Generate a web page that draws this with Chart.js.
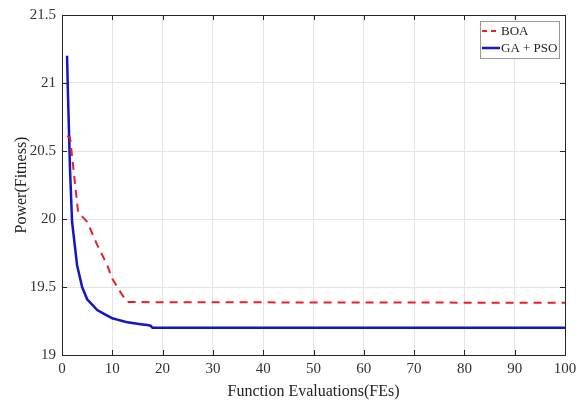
<!DOCTYPE html>
<html>
<head>
<meta charset="utf-8">
<script src="https://cdn.jsdelivr.net/npm/chart.js@4.4.1/dist/chart.umd.min.js"></script>
<style>
    html, body { margin: 0; padding: 0; background: #fff; }
    #wrap { width: 584px; height: 405px; position: relative; }
</style>
</head>
<body>
<div id="wrap"><canvas id="fitnessChart" width="584" height="405"></canvas></div>
<script>
// ─── Data ───────────────────────────────────────────────────────────────────
const boaFEs   = [1, 1.6, 2.3, 3.2, 5, 7, 9, 10, 11, 12, 13, 20, 40, 60, 80, 100];
const boaPower = [20.61, 20.6, 20.36, 20.05, 19.98, 19.81, 19.66, 19.56, 19.5, 19.44, 19.39, 19.388, 19.387, 19.386, 19.385, 19.385];

const gaPsoFEs   = [1, 1.2, 1.6, 2, 3, 4, 5, 6, 7, 8, 9, 10, 11, 12, 13, 14, 15, 16, 17, 17.6, 18, 30, 50, 70, 100];
const gaPsoPower = [21.2, 20.9, 20.36, 19.98, 19.66, 19.5, 19.41, 19.37, 19.33, 19.31, 19.29, 19.27, 19.26, 19.25, 19.24, 19.235, 19.23, 19.225, 19.22, 19.215, 19.2, 19.2, 19.2, 19.2, 19.2];

const seriesNames = ['BOA', 'GA + PSO'];
const xTicks = [0, 10, 20, 30, 40, 50, 60, 70, 80, 90, 100];
const yTicks = ['19', '19.5', '20', '20.5', '21', '21.5'];

const toPoints = (xs, ys) => xs.map((x, i) => ({ x: x, y: ys[i] }));

const FONT = "'Liberation Serif', 'Times New Roman', serif";
const RED = '#e8202a';
const BLUE = '#1414c8';

// ─── Box, inner ticks and legend (MATLAB style) ─────────────────────────────
const matlabBox = {
    id: 'matlabBox',
    afterDraw(chart) {
        const { ctx, chartArea: a, scales } = chart;
        ctx.save();
        ctx.strokeStyle = '#262626';
        ctx.lineWidth = 1;
        ctx.strokeRect(a.left + 0.5, a.top + 0.5, a.right - a.left, a.bottom - a.top);

        ctx.beginPath();
        xTicks.forEach(v => {
            const px = Math.round(scales.x.getPixelForValue(v)) + 0.5;
            ctx.moveTo(px, a.bottom); ctx.lineTo(px, a.bottom - 5);
            ctx.moveTo(px, a.top); ctx.lineTo(px, a.top + 5);
        });
        yTicks.forEach(v => {
            const py = Math.round(scales.y.getPixelForValue(parseFloat(v))) + 0.5;
            ctx.moveTo(a.left, py); ctx.lineTo(a.left + 5, py);
            ctx.moveTo(a.right, py); ctx.lineTo(a.right - 5, py);
        });
        ctx.stroke();

        // legend box in the top right corner
        const bx = a.right - 85, by = a.top + 6, bw = 79, bh = 37;
        ctx.fillStyle = '#fff';
        ctx.fillRect(bx, by, bw, bh);
        ctx.strokeStyle = '#999';
        ctx.strokeRect(bx + 0.5, by + 0.5, bw, bh);
        ctx.font = '13px ' + FONT;
        ctx.textBaseline = 'middle';
        ctx.fillStyle = '#222';
        const styles = [{ c: RED, dash: [5, 4], w: 2 }, { c: BLUE, dash: [], w: 2.5 }];
        seriesNames.forEach((name, i) => {
            const ly = by + 10 + i * 17;
            ctx.beginPath();
            ctx.strokeStyle = styles[i].c;
            ctx.lineWidth = styles[i].w;
            ctx.setLineDash(styles[i].dash);
            ctx.moveTo(bx + 2, ly); ctx.lineTo(bx + 20, ly);
            ctx.stroke();
            ctx.setLineDash([]);
            ctx.fillText(name, bx + 21, ly + 1);
        });
        ctx.restore();
    }
};

new Chart(document.getElementById('fitnessChart').getContext('2d'), {
    type: 'scatter',
    data: {
        datasets: [{
            label: seriesNames[0],
            data: toPoints(boaFEs, boaPower),
            showLine: true,
            borderColor: RED,
            borderWidth: 2,
            borderDash: [8, 6],
            pointRadius: 0,
            tension: 0
        }, {
            label: seriesNames[1],
            data: toPoints(gaPsoFEs, gaPsoPower),
            showLine: true,
            borderColor: BLUE,
            borderWidth: 2.5,
            pointRadius: 0,
            tension: 0
        }]
    },
    options: {
        responsive: false,
        animation: false,
        layout: { padding: { top: 14, right: 19, left: 8, bottom: 0 } },
        plugins: { legend: { display: false }, tooltip: { enabled: false } },
        scales: {
            x: {
                type: 'linear',
                min: 0, max: 100,
                afterFit(s) { s.height = 50; },
                afterBuildTicks(s) { s.ticks = xTicks.map(v => ({ value: v })); },
                grid: { color: '#e4e4e4', drawTicks: false },
                border: { display: false },
                ticks: { color: '#333', padding: 5, font: { family: FONT, size: 15 }, maxRotation: 0 },
                title: { display: true, text: 'Function Evaluations(FEs)', color: '#222', padding: { top: 3 }, font: { family: FONT, size: 16 } }
            },
            y: {
                type: 'linear',
                min: 19, max: 21.5,
                afterFit(s) { s.width = 54; },
                afterBuildTicks(s) { s.ticks = yTicks.map(v => ({ value: parseFloat(v) })); },
                grid: { color: '#e4e4e4', drawTicks: false },
                border: { display: false },
                ticks: {
                    color: '#333', padding: 6, font: { family: FONT, size: 15 },
                    callback: (v) => yTicks.find(t => parseFloat(t) === v)
                },
                title: { display: true, text: 'Power(Fitness)', color: '#222', padding: { bottom: 2 }, font: { family: FONT, size: 16 } }
            }
        }
    },
    plugins: [matlabBox]
});
</script>
</body>
</html>
